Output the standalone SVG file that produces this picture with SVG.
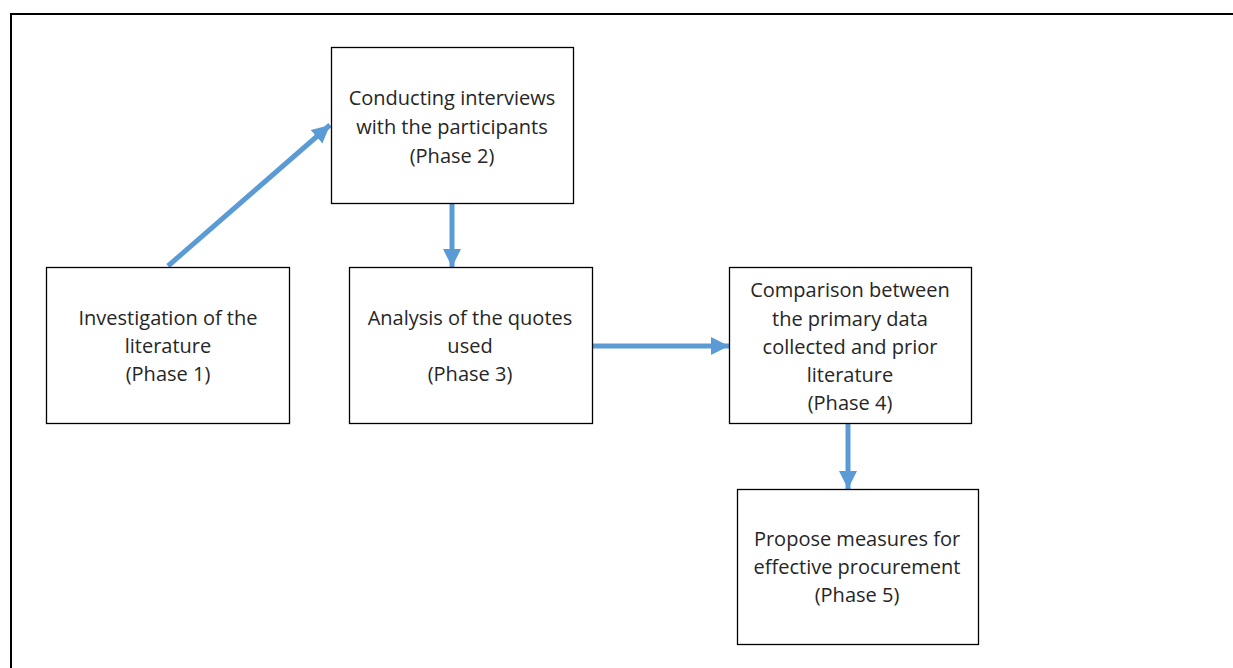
<svg xmlns="http://www.w3.org/2000/svg" width="1233" height="668" viewBox="0 0 1233 668">
<style>
.box{fill:#fff;stroke:#000;stroke-width:1.3}
.t{font-family:"Open Sans","Liberation Sans",sans-serif;font-size:20px;fill:#262626;text-anchor:middle}
.c{stroke:#5B9BD5;stroke-width:5;fill:none}
</style>
<defs>
<marker id="ah" markerUnits="userSpaceOnUse" markerWidth="18" markerHeight="18" viewBox="0 0 18 18" refX="18" refY="9" orient="auto">
<path d="M0,0 L18,9 L0,18 Z" fill="#5B9BD5"/>
</marker>
</defs>
<rect width="1233" height="668" fill="#fff"/>
<path d="M11,668 V14 H1233" fill="none" stroke="#000" stroke-width="2"/>
<g id="connectors">
<path class="c" d="M168,266 L330,125" marker-end="url(#ah)"/>
<path class="c" d="M452,203 L452,267" marker-end="url(#ah)"/>
<path class="c" d="M592,346 L729,346" marker-end="url(#ah)"/>
<path class="c" d="M848,423 L848,489" marker-end="url(#ah)"/>
</g>
<g id="phase1">
<rect class="box" x="46.5" y="267.5" width="243" height="156"/>
<text class="t" x="168" y="325">Investigation of the</text>
<text class="t" x="168" y="353">literature</text>
<text class="t" x="168" y="381">(Phase 1)</text>
</g>
<g id="phase2">
<rect class="box" x="331.5" y="47.5" width="242" height="156"/>
<text class="t" x="452" y="105">Conducting interviews</text>
<text class="t" x="452" y="134">with the participants</text>
<text class="t" x="452" y="163">(Phase 2)</text>
</g>
<g id="phase3">
<rect class="box" x="349.5" y="267.5" width="243" height="156"/>
<text class="t" x="470" y="325">Analysis of the quotes</text>
<text class="t" x="470" y="353">used</text>
<text class="t" x="470" y="381">(Phase 3)</text>
</g>
<g id="phase4">
<rect class="box" x="729.5" y="267.5" width="242" height="156"/>
<text class="t" x="850" y="297">Comparison between</text>
<text class="t" x="850" y="326">the primary data</text>
<text class="t" x="850" y="354">collected and prior</text>
<text class="t" x="850" y="382">literature</text>
<text class="t" x="850" y="410">(Phase 4)</text>
</g>
<g id="phase5">
<rect class="box" x="737.5" y="489.5" width="241" height="155"/>
<text class="t" x="857" y="546">Propose measures for</text>
<text class="t" x="857" y="574">effective procurement</text>
<text class="t" x="857" y="602">(Phase 5)</text>
</g>
</svg>
